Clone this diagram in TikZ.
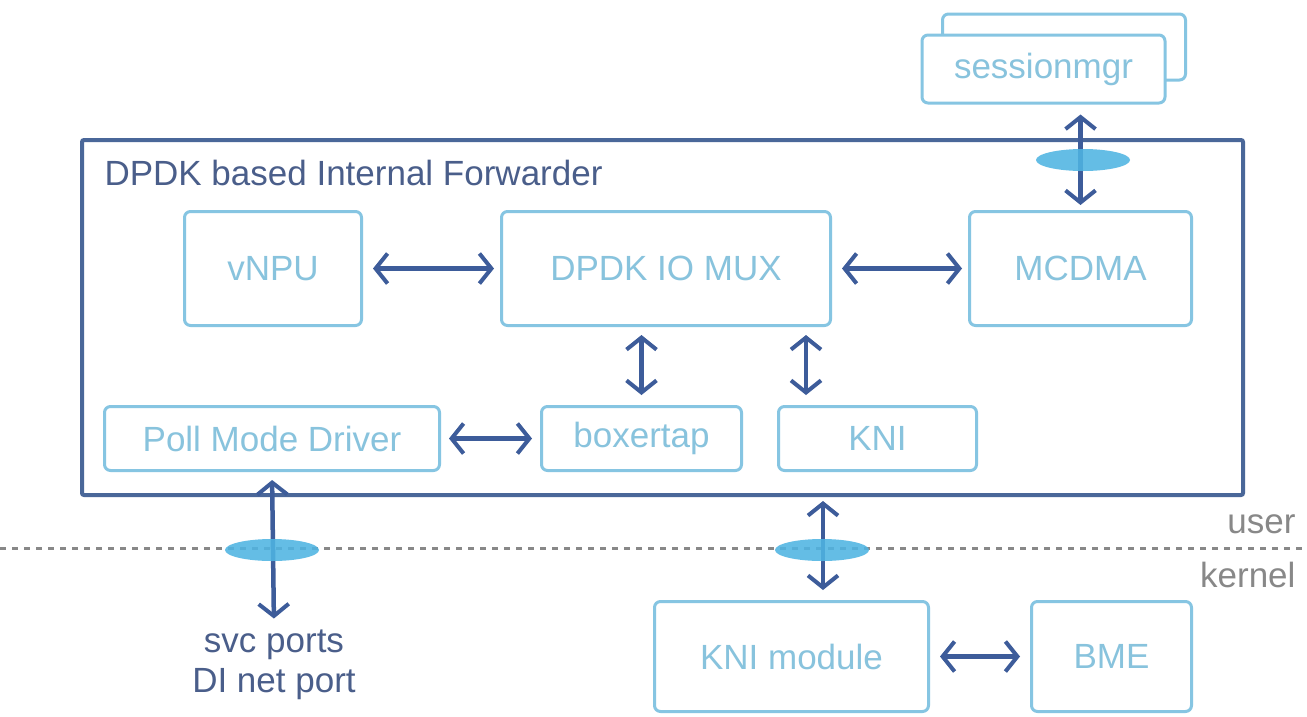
\documentclass[tikz,border=0pt]{standalone}
\usepackage{fontspec}
\setmainfont{Liberation Sans}
\usetikzlibrary{arrows.meta,shapes.geometric}
\definecolor{boxc}{HTML}{86C5E2}
\definecolor{boxtxt}{HTML}{88C3DD}
\definecolor{outc}{HTML}{4A6799}
\definecolor{arrc}{HTML}{3D5C9A}
\definecolor{ellc}{HTML}{4FB4E2}
\definecolor{titc}{HTML}{4A5E8A}
\definecolor{greyc}{HTML}{888888}
\begin{document}
\begin{tikzpicture}[x=1pt,y=-1pt,
  blk/.style={draw=boxc, line width=3pt, rounded corners=6pt, fill=white, text=boxtxt,
    font=\fontsize{35}{42}\selectfont, inner sep=0pt},
  arr/.style={draw=arrc, line width=4.5pt,
    {Straight Barb[length=12pt,width=30pt,line width=4pt]}-{Straight Barb[length=12pt,width=30pt,line width=4pt]}},
  ell/.style={ellipse, fill=ellc, fill opacity=0.88, draw=none, minimum width=94pt, minimum height=22pt, inner sep=0pt},
  lbl/.style={font=\fontsize{35}{42}\selectfont}
]
\useasboundingbox (0,0) rectangle (1307,716);
\fill[white] (0,0) rectangle (1307,716);

% outer forwarder box
\node[draw=outc, line width=4pt, rounded corners=2pt, minimum width=1161pt, minimum height=355pt, inner sep=0pt]
  (fwd) at (662.5,317.5) {};
\node[anchor=west, text=titc, font=\fontsize{35}{42}\selectfont] (title) at (101,173) {DPDK based Internal Forwarder};

% boxes
\node[blk, minimum width=177pt, minimum height=114pt] (vnpu) at (273,268.5) {vNPU};
\node[blk, minimum width=329pt, minimum height=114pt] (mux) at (666,268.5) {DPDK IO MUX};
\node[blk, minimum width=222pt, minimum height=114pt] (mcdma) at (1080.5,268.5) {MCDMA};
\node[blk, minimum width=335pt, minimum height=64pt] (pmd) at (272,438.5) {Poll Mode Driver};
\node[blk, minimum width=200pt, minimum height=64pt, text height=25pt, text depth=7pt] (boxertap) at (641.5,438.5) {boxertap};
\node[blk, minimum width=198pt, minimum height=64pt] (kni) at (877.5,438.5) {KNI};

% sessionmgr stack
\node[blk, minimum width=243pt, minimum height=66pt] (sessback) at (1064,47) {};
\node[blk, minimum width=243pt, minimum height=68pt] (sess) at (1043.5,69) {sessionmgr};

% kernel boxes
\node[blk, minimum width=274pt, minimum height=110pt] (knimod) at (791.5,656.5) {KNI module};
\node[blk, minimum width=160pt, minimum height=110pt] (bme) at (1111.5,656.5) {BME};

% user/kernel separator
\coordinate (sepL) at (0,548);
\coordinate (sepR) at (1307,548);
\draw[greyc, line width=3pt, dash pattern=on 6pt off 6pt] (sepL) -- (sepR);
\node[lbl, text=greyc, anchor=east] (user) at (1299,524) {user};
\node[lbl, text=greyc, anchor=east] (kernel) at (1299,575) {kernel};

% svc ports label
\node[lbl, text=titc, align=center, font=\fontsize{35}{40}\selectfont] (svc) at (274,665) {svc ports\\DI net port};

% arrows
\draw[arr, shorten <=10pt, shorten >=6pt] (vnpu) -- (mux);
\draw[arr, shorten <=10pt, shorten >=6pt] (mux) -- (mcdma);
\draw[arr, shorten <=8pt, shorten >=10pt] (mux.south -| boxertap.north) -- (boxertap.north);
\draw[arr, shorten <=8pt, shorten >=10pt] (mux.south -| kni.north west) ++(29,0) -- ([xshift=29pt]kni.north west);
\draw[arr, shorten <=8pt, shorten >=8pt] (pmd) -- (boxertap);
\draw[arr, shorten <=10pt, shorten >=5pt] (sess.south -| mcdma.north) -- (mcdma.north);
\draw[arr, shorten <=8pt, shorten >=8pt] (pmd.south) -- (svc.north);
\draw[arr, shorten <=4pt, shorten >=10pt] ([xshift=31.5pt]knimod.north |- fwd.south) -- ([xshift=31.5pt]knimod.north);
\draw[arr, shorten <=10pt, shorten >=10pt] (knimod) -- (bme);

% ellipses
\node[ell] (e1) at (1083,160) {};
\node[ell] (e2) at (272,550) {};
\node[ell] (e3) at (822,550) {};
\end{tikzpicture}
\end{document}
